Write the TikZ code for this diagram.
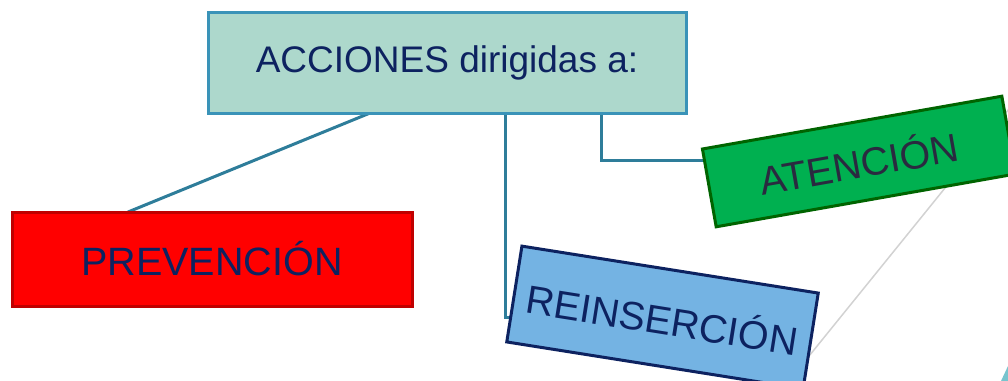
\documentclass[tikz,border=0pt]{standalone}
\usepackage{fontspec}
\setmainfont{Liberation Sans}
\usetikzlibrary{calc,backgrounds}
\definecolor{accfill}{RGB}{173,216,204}
\definecolor{accdraw}{RGB}{58,147,184}
\definecolor{conncol}{RGB}{46,125,154}
\definecolor{navy}{RGB}{13,34,96}
\definecolor{redfill}{RGB}{255,0,0}
\definecolor{reddraw}{RGB}{192,0,0}
\definecolor{greenfill}{RGB}{0,176,80}
\definecolor{greendraw}{RGB}{0,100,0}
\definecolor{attext}{RGB}{42,42,64}
\definecolor{bluefill}{RGB}{116,179,227}
\definecolor{graylinecol}{RGB}{210,210,210}
\definecolor{tealbit}{RGB}{120,196,206}
\tikzset{
  boxbase/.style={rectangle, inner sep=0pt, outer sep=0pt, line width=3pt, align=center,
    font=\fontsize{39.5}{42}\selectfont},
  accbox/.style={boxbase, fill=accfill, draw=accdraw, text=navy, minimum width=478pt, minimum height=101pt,
    font=\fontsize{37}{40}\selectfont},
  prevbox/.style={boxbase, fill=redfill, draw=reddraw, text=navy, minimum width=400pt, minimum height=94pt},
  atbox/.style={boxbase, fill=greenfill, draw=greendraw, text=attext, minimum width=304pt, minimum height=79pt},
  reinbox/.style={boxbase, fill=bluefill, draw=navy, text=navy, minimum width=300pt, minimum height=97pt},
  conn/.style={draw=conncol, line width=3pt},
  faint/.style={draw=graylinecol, line width=1.5pt}
}
\begin{document}
\begin{tikzpicture}[x=1pt,y=-1pt]
\useasboundingbox (0,0) rectangle (1008,380);
% nodes
\node[accbox] (acc) at (447,62.5) {ACCIONES dirigidas a:};
\node[prevbox] (prev) at (212,259) {PREVENCIÓN};
\node[atbox, rotate=10] (aten) at (859,161.5) {ATENCIÓN};
\node[reinbox, rotate=-9] (rein) at (662.5,317.5) {REINSERCIÓN};
% anchor points
\coordinate (a1) at ($(acc.south west)!0.339!(acc.south east)$);
\coordinate (a2) at ($(acc.south west)!0.623!(acc.south east)$);
\coordinate (a3) at ($(acc.south west)!0.824!(acc.south east)$);
\coordinate (p1) at ($(prev.north west)!0.29!(prev.north east)$);
\coordinate (t1) at ($(aten.north west)!0.15!(aten.south west)$);
\coordinate (r1) at ($(rein.north west)!0.75!(rein.south west)$);
\coordinate (g1) at (1013,104);
\coordinate (g2) at (788,382);
\coordinate (k1) at (1008,366);
\coordinate (k2) at (1001,381);
\coordinate (k3) at (1009,381);
% connectors and background lines behind boxes
\begin{scope}[on background layer]
\draw[faint] (g1) -- (g2);
\fill[tealbit] (k1) -- (k2) -- (k3) -- cycle;
\draw[conn] (a1) -- (p1);
\draw[conn] (a2) |- (r1);
\draw[conn] (a3) |- (t1);
\end{scope}
\end{tikzpicture}
\end{document}
